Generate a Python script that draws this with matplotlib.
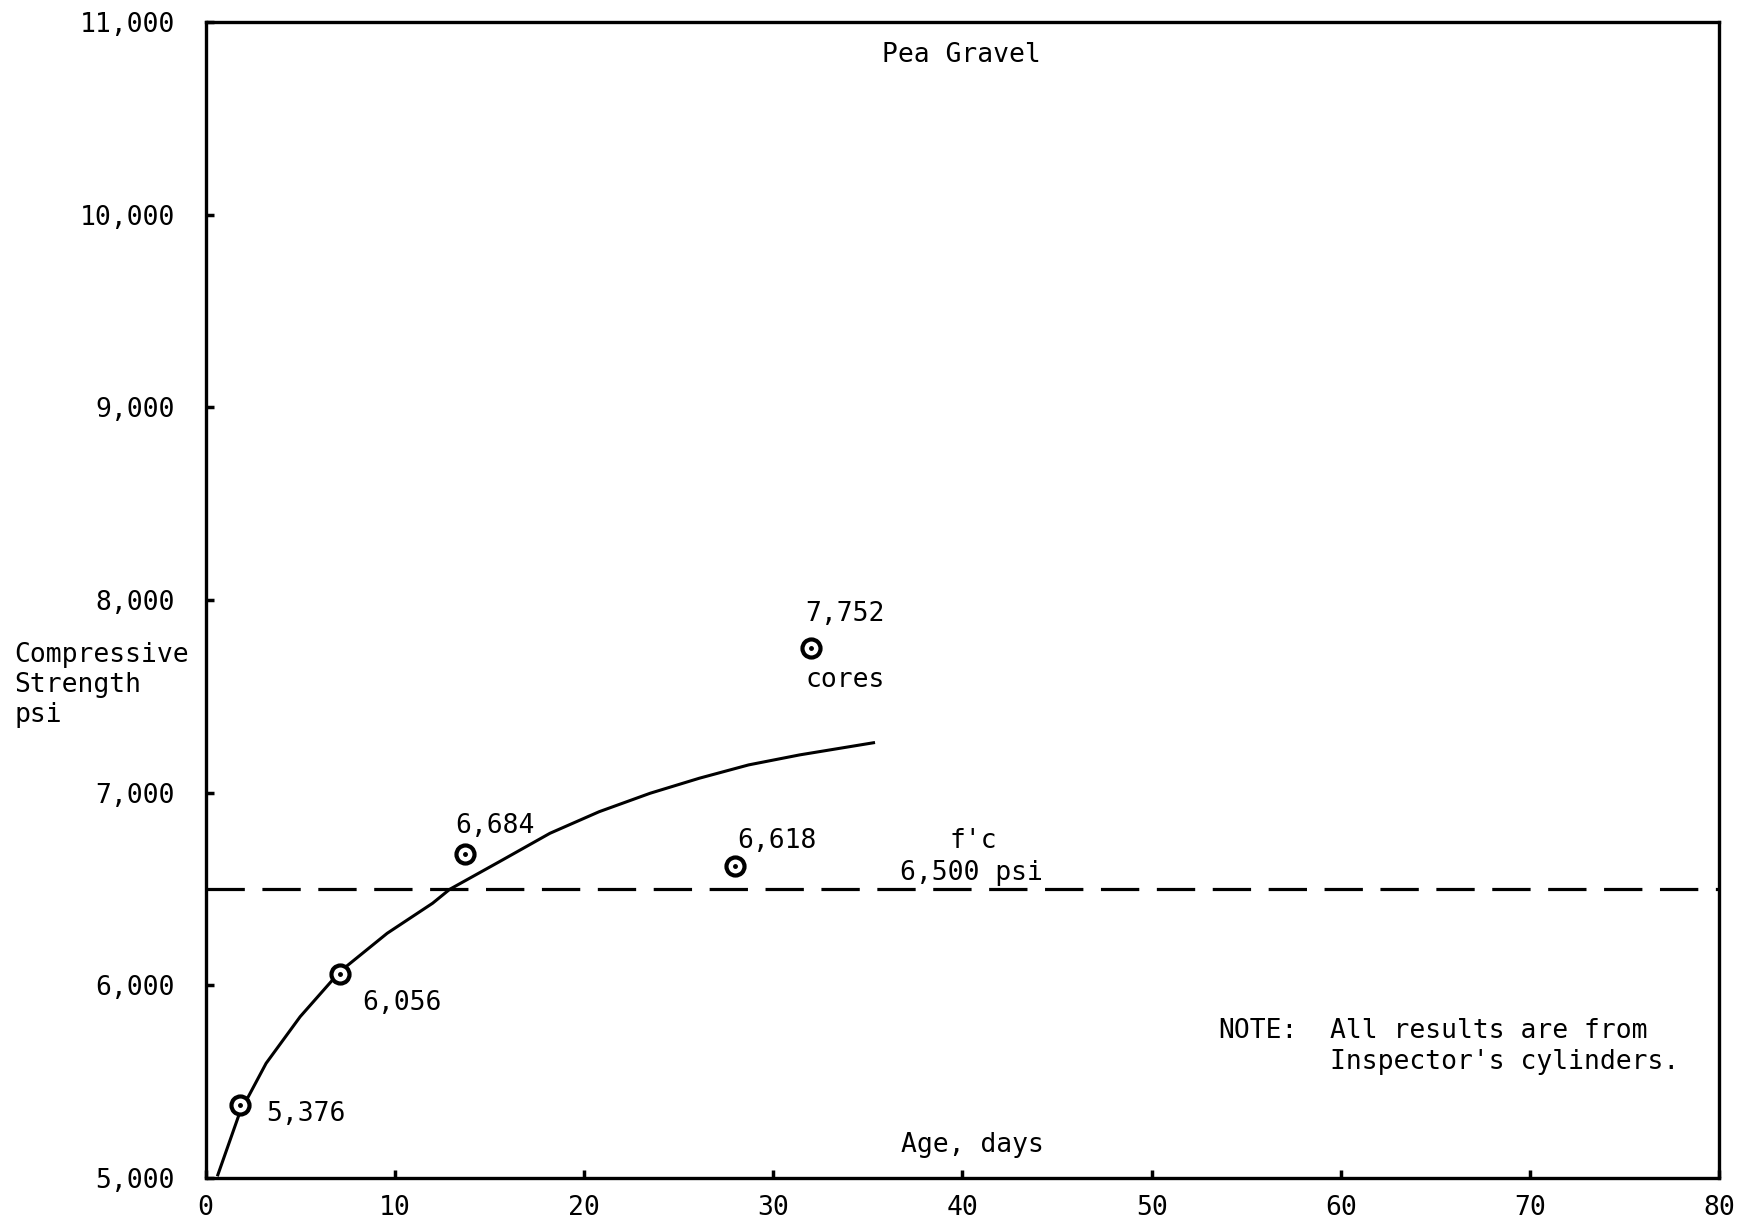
import numpy as np
import matplotlib
matplotlib.use("Agg")
import matplotlib.pyplot as plt

# data
age_days = [1.8, 7.1, 13.7, 28.0, 32.0]
strength = [5376, 6056, 6684, 6618, 7752]
point_labels = ["5,376", "6,056", "6,684", "6,618", "7,752"]

# hand-drawn strength curve, traced point by point
curve_days = [0.65, 1.8, 3.2, 5.0, 7.1, 9.6, 12.0, 12.9, 15.5, 18.2, 20.8,
              23.5, 26.1, 28.7, 31.4, 35.3]
curve_strength = [5016, 5337, 5595, 5837, 6071, 6270, 6426, 6498, 6640, 6789,
                  6901, 6997, 7075, 7144, 7196, 7259]

fc_value = 6500

x_ticks = [0, 10, 20, 30, 40, 50, 60, 70, 80]
y_ticks = [5000, 6000, 7000, 8000, 9000, 10000, 11000]
y_tick_labels = ["5,000", "6,000", "7,000", "8,000", "9,000", "10,000", "11,000"]

plt.rcParams['font.family'] = ['DejaVu Sans Mono']
fs = 19

fig = plt.figure(figsize=(17.42, 12.27), dpi=100)
ax = fig.add_axes([0.118, 0.040, 0.869, 0.942])

ax.plot(curve_days, curve_strength, color='black', lw=2.2, solid_joinstyle='round')
ax.plot([0, 80], [fc_value, fc_value], color='black', lw=2.3, linestyle=(0, (12, 5.5)))
ax.plot(age_days, strength, 'o', markersize=13, markerfacecolor='white',
        markeredgecolor='black', markeredgewidth=3.0, zorder=5)
ax.plot(age_days, strength, '.', markersize=5, color='black', zorder=6)

# point labels
offsets = [(1.4, -45), (1.2, -150), (-0.5, 145), (0.1, 130), (-0.3, 175)]
for x, y, lab, (dx, dy) in zip(age_days, strength, point_labels, offsets):
    ax.text(x + dx, y + dy, lab, fontsize=fs, ha='left', va='center')

ax.text(31.7, 7585, "cores", fontsize=fs, ha='left', va='center')
ax.text(40.55, 6748, "f'c", fontsize=fs, ha='center', va='center')
ax.text(40.5, 6581, "6,500 psi", fontsize=fs, ha='center', va='center')
ax.text(39.96, 10828, "Pea Gravel", fontsize=fs, ha='center', va='center')
ax.text(40.55, 5173, "Age, days", fontsize=fs, ha='center', va='center')
ax.text(53.5, 5762, "NOTE:", fontsize=fs, ha='left', va='center')
ax.text(59.4, 5762, "All results are from", fontsize=fs, ha='left', va='center')
ax.text(59.4, 5600, "Inspector's cylinders.", fontsize=fs, ha='left', va='center')

fig.text(0.0083, 0.477, "Compressive\nStrength\npsi", fontsize=fs, ha='left',
         va='top', linespacing=1.2)

ax.set_xlim(0, 80)
ax.set_ylim(5000, 11000)
ax.set_xticks(x_ticks)
ax.set_xticklabels([str(t) for t in x_ticks])
ax.set_yticks(y_ticks)
ax.set_yticklabels(y_tick_labels)
ax.tick_params(direction='in', length=6, width=2.5, labelsize=fs)
ax.tick_params(axis='x', pad=12)
ax.tick_params(axis='y', pad=22)
for s in ax.spines.values():
    s.set_linewidth(2.4)

fig.savefig("out.png", dpi=100)
